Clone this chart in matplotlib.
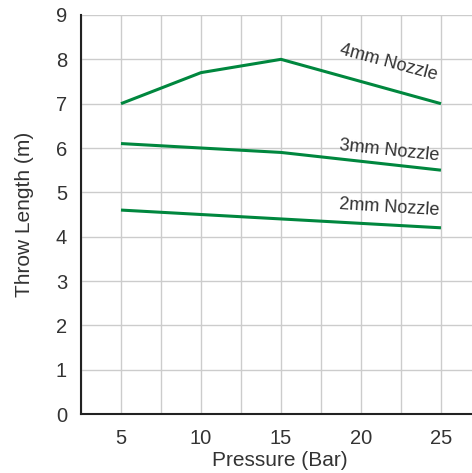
"""Throw length vs pressure for three nozzle sizes."""

import matplotlib

matplotlib.use("Agg")
import matplotlib.pyplot as plt

pressure = [5, 10, 15, 20, 25]
throw_4mm = [7.0, 7.7, 8.0, 7.5, 7.0]
throw_3mm = [6.1, 6.0, 5.9, 5.7, 5.5]
throw_2mm = [4.6, 4.5, 4.4, 4.3, 4.2]
x_ticks = [5, 10, 15, 20, 25]
y_ticks = [0, 1, 2, 3, 4, 5, 6, 7, 8, 9]

GREEN = "#00873e"
TEXT = "#333333"

plt.rcParams["font.family"] = ["Liberation Sans", "DejaVu Sans"]

fig = plt.figure(figsize=(4.72, 4.73), dpi=100)
ax = fig.add_axes([0.1716, 0.1247, 0.8284, 0.8436])

for series in (throw_4mm, throw_3mm, throw_2mm):
    ax.plot(pressure, series, color=GREEN, linewidth=2.2, solid_capstyle="butt", zorder=3)

# Curve labels sit just above the right-hand ends of each line.
ax.text(21.75, 7.93, "4mm Nozzle", rotation=-15, ha="center", va="center",
        fontsize=13, color=TEXT)
ax.text(21.75, 5.93, "3mm Nozzle", rotation=-6, ha="center", va="center",
        fontsize=13, color=TEXT)
ax.text(21.75, 4.65, "2mm Nozzle", rotation=-3.5, ha="center", va="center",
        fontsize=13, color=TEXT)

ax.set_xlim(2.5, 26.94)
ax.set_ylim(0, 9)
ax.set_xticks(x_ticks)
ax.set_yticks(y_ticks)
ax.set_xticks([2.5 + 2.5 * k for k in range(10)], minor=True)
ax.grid(True, which="both", axis="x", color="#cccccc", linewidth=1.0)
ax.grid(True, which="major", axis="y", color="#cccccc", linewidth=1.0)
ax.set_axisbelow(True)

ax.tick_params(axis="both", which="both", length=0, labelsize=14.5, colors=TEXT)
ax.tick_params(axis="x", pad=11)
ax.tick_params(axis="y", pad=10)

for side in ("top", "right"):
    ax.spines[side].set_visible(False)
for side in ("left", "bottom"):
    ax.spines[side].set_color("#222222")
    ax.spines[side].set_linewidth(1.5)

ax.set_xlabel("Pressure (Bar)", fontsize=15, color=TEXT)
ax.xaxis.set_label_coords(0.509, -0.092)
ax.set_ylabel("Throw Length (m)", fontsize=15, color=TEXT, labelpad=16)

fig.savefig("out.png", dpi=100)
